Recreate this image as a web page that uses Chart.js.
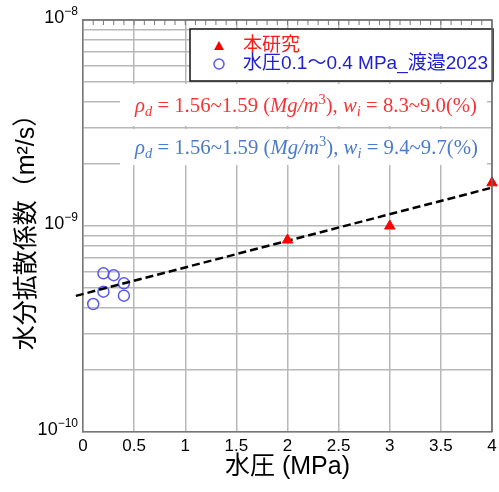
<!DOCTYPE html>
<html>
<head>
<meta charset="utf-8">
<script src="https://cdn.jsdelivr.net/npm/chart.js@4.4.0/dist/chart.umd.min.js"></script>
<style>
  html, body { margin: 0; padding: 0; background: #fff; }
  #wrap { width: 499px; height: 492px; }
</style>
</head>
<body>
<div id="wrap"><canvas id="c"></canvas></div>
<script>
// data
const pressureThis = [2, 3, 4];
const diffThis = [8.55e-10, 1.0e-9, 1.62e-9];
const pressureWatanabe = [0.1, 0.2, 0.2, 0.3, 0.4, 0.4];
const diffWatanabe = [4.18e-10, 5.89e-10, 4.80e-10, 5.77e-10, 5.27e-10, 4.59e-10];
const trendX = [-0.07, 4.01];
const trendY = [4.58e-10, 1.54e-9];

const xTicks = [0, 0.5, 1, 1.5, 2, 2.5, 3, 3.5, 4];
const yGrid = [1e-10, 2e-10, 3e-10, 4e-10, 5e-10, 6e-10, 7e-10, 8e-10, 9e-10,
               1e-9, 2e-9, 3e-9, 4e-9, 5e-9, 6e-9, 7e-9, 8e-9, 9e-9, 1e-8];
const yDecades = [1e-10, 1e-9, 1e-8];
const yDecadeExp = ["\u221210", "\u22129", "\u22128"];

const legendLabels = ["本研究", "水圧0.1～0.4 MPa_渡邉2023"];
const noteRed = [
  {t: "ρ", it: true}, {t: "d", it: true, sub: true}, {t: " = 1.56~1.59 ("},
  {t: "Mg/m", it: true}, {t: "3", sup: true}, {t: "), "},
  {t: "w", it: true}, {t: "i", it: true, sub: true}, {t: " = 8.3~9.0(%)"}
];
const noteBlue = [
  {t: "ρ", it: true}, {t: "d", it: true, sub: true}, {t: " = 1.56~1.59 ("},
  {t: "Mg/m", it: true}, {t: "3", sup: true}, {t: "), "},
  {t: "w", it: true}, {t: "i", it: true, sub: true}, {t: " = 9.4~9.7(%)"}
];

const sans = '"Liberation Sans", "Noto Sans CJK JP", sans-serif';
const serif = '"Liberation Serif", "DejaVu Serif", serif';

function mathFont(s, size) {
  const sz = (s.sub || s.sup) ? size * 0.7 : size;
  return (s.it ? 'italic ' : '') + sz + 'px ' + serif;
}

function drawMath(ctx, segs, x, y, size, color, targetW) {
  ctx.save();
  ctx.fillStyle = color;
  ctx.textBaseline = 'alphabetic';
  ctx.textAlign = 'left';
  let w = 0;
  segs.forEach(s => { ctx.font = mathFont(s, size); w += ctx.measureText(s.t).width; });
  ctx.translate(x, y);
  ctx.scale(targetW / w, 1);
  let cx = 0;
  segs.forEach(s => {
    ctx.font = mathFont(s, size);
    let dy = 0;
    if (s.sub) dy = size * 0.22;
    if (s.sup) dy = -size * 0.4;
    ctx.fillText(s.t, cx, dy);
    cx += ctx.measureText(s.t).width;
  });
  ctx.restore();
}

const decor = {
  id: 'decor',
  beforeDatasetsDraw(chart) {
    const ctx = chart.ctx;
    const a = chart.chartArea;
    ctx.save();
    // note boxes
    ctx.fillStyle = '#fff';
    ctx.fillRect(a.left + 37, 84, a.right - a.left - 42, 42);
    ctx.fillRect(a.left + 37, 129, a.right - a.left - 42, 36);
    drawMath(ctx, noteRed, a.left + 52, 112, 20, '#f53535', 342);
    drawMath(ctx, noteBlue, a.left + 52, 154, 20, '#4a7acb', 343);

    // legend box
    const lx = a.left + 107, ly = 29, lw = a.right - lx + 1, lh = 52;
    ctx.fillStyle = '#fff';
    ctx.fillRect(lx, ly, lw, lh);
    ctx.strokeStyle = '#111';
    ctx.lineWidth = 1.5;
    ctx.strokeRect(lx, ly, lw, lh);
    // triangle marker
    ctx.fillStyle = '#ff0000';
    ctx.beginPath();
    ctx.moveTo(lx + 29, ly + 12);
    ctx.lineTo(lx + 34, ly + 21);
    ctx.lineTo(lx + 24, ly + 21);
    ctx.closePath();
    ctx.fill();
    // circle marker
    ctx.strokeStyle = '#5a5aea';
    ctx.lineWidth = 1.5;
    ctx.beginPath();
    ctx.arc(lx + 29, ly + 35, 5, 0, Math.PI * 2);
    ctx.stroke();
    ctx.font = '19px ' + sans;
    ctx.textBaseline = 'middle';
    ctx.fillStyle = '#ff1a1a';
    ctx.fillText(legendLabels[0], lx + 53, ly + 17);
    ctx.fillStyle = '#2020d0';
    ctx.fillText(legendLabels[1], lx + 53, ly + 35);
    ctx.restore();
  },
  afterDraw(chart) {
    const ctx = chart.ctx;
    const a = chart.chartArea;
    const xs = chart.scales.x, ys = chart.scales.y;
    ctx.save();
    // top and right frame
    ctx.strokeStyle = '#666';
    ctx.lineWidth = 1.5;
    ctx.beginPath();
    ctx.moveTo(a.left, a.top);
    ctx.lineTo(a.right, a.top);
    ctx.lineTo(a.right, a.bottom);
    ctx.stroke();
    // inward minor ticks on top
    ctx.lineWidth = 1;
    ctx.strokeStyle = '#777';
    ctx.beginPath();
    for (let i = 1; i < 40; i++) {
      const px = xs.getPixelForValue(i / 10);
      ctx.moveTo(px, a.top);
      ctx.lineTo(px, a.top + 5);
    }
    ctx.stroke();
    // y decade labels 10^n
    ctx.fillStyle = '#000';
    ctx.textBaseline = 'alphabetic';
    ctx.textAlign = 'left';
    yDecades.forEach((v, i) => {
      const py = ys.getPixelForValue(v);
      ctx.font = '12px ' + sans;
      const we = ctx.measureText(yDecadeExp[i]).width;
      ctx.font = '18px ' + sans;
      const wb = ctx.measureText('10').width;
      const right = a.left - 5;
      ctx.fillText('10', right - we - wb, py + 2.5);
      ctx.font = '12px ' + sans;
      ctx.fillText(yDecadeExp[i], right - we, py - 5);
    });
    ctx.restore();
  }
};

new Chart(document.getElementById('c'), {
  type: 'scatter',
  data: {
    datasets: [
      {
        data: trendX.map((x, i) => ({x: x, y: trendY[i]})),
        showLine: true,
        borderColor: '#000',
        borderWidth: 2.5,
        borderDash: [8, 4],
        pointRadius: 0,
        clip: false,
        order: 1
      },
      {
        label: legendLabels[0],
        data: pressureThis.map((x, i) => ({x: x, y: diffThis[i]})),
        pointStyle: 'triangle',
        pointRadius: 6,
        backgroundColor: '#ff0000',
        borderColor: '#ff0000',
        borderWidth: 1,
        clip: false,
        order: 0
      },
      {
        label: legendLabels[1],
        data: pressureWatanabe.map((x, i) => ({x: x, y: diffWatanabe[i]})),
        pointStyle: 'circle',
        pointRadius: 5.5,
        backgroundColor: 'rgba(0,0,0,0)',
        borderColor: '#5a5aea',
        borderWidth: 1.5,
        order: 2
      }
    ]
  },
  options: {
    responsive: true,
    maintainAspectRatio: false,
    animation: false,
    layout: { padding: { top: 20, right: 4, left: 0, bottom: 0 } },
    plugins: { legend: { display: false }, tooltip: { enabled: false } },
    scales: {
      x: {
        type: 'linear',
        min: 0,
        max: 4,
        afterBuildTicks: s => { s.ticks = xTicks.map(v => ({value: v})); },
        afterFit: s => { s.height = 60; s.paddingRight = 0; s.paddingLeft = 0; },
        ticks: { font: { size: 17, family: sans }, color: '#000', padding: 4, callback: v => String(v) },
        grid: { color: '#b8b8b8', lineWidth: 1.5, drawTicks: false },
        border: { color: '#777', width: 1.5 },
        title: { display: true, text: '水圧 (MPa)', color: '#000',
                 font: { size: 25, family: sans }, padding: { top: 0, bottom: 10 } }
      },
      y: {
        type: 'logarithmic',
        min: 1e-10,
        max: 1e-8,
        afterBuildTicks: s => { s.ticks = yGrid.map(v => ({value: v})); },
        afterFit: s => { s.width = 83; },
        ticks: { display: false },
        grid: { color: '#b8b8b8', lineWidth: 1.5, drawTicks: false },
        border: { color: '#777', width: 1.5 },
        title: { display: true, text: '水分拡散係数（m²/s）', color: '#000',
                 font: { size: 25, family: sans }, padding: { top: 12, bottom: 0 } }
      }
    }
  },
  plugins: [decor]
});
</script>
</body>
</html>
